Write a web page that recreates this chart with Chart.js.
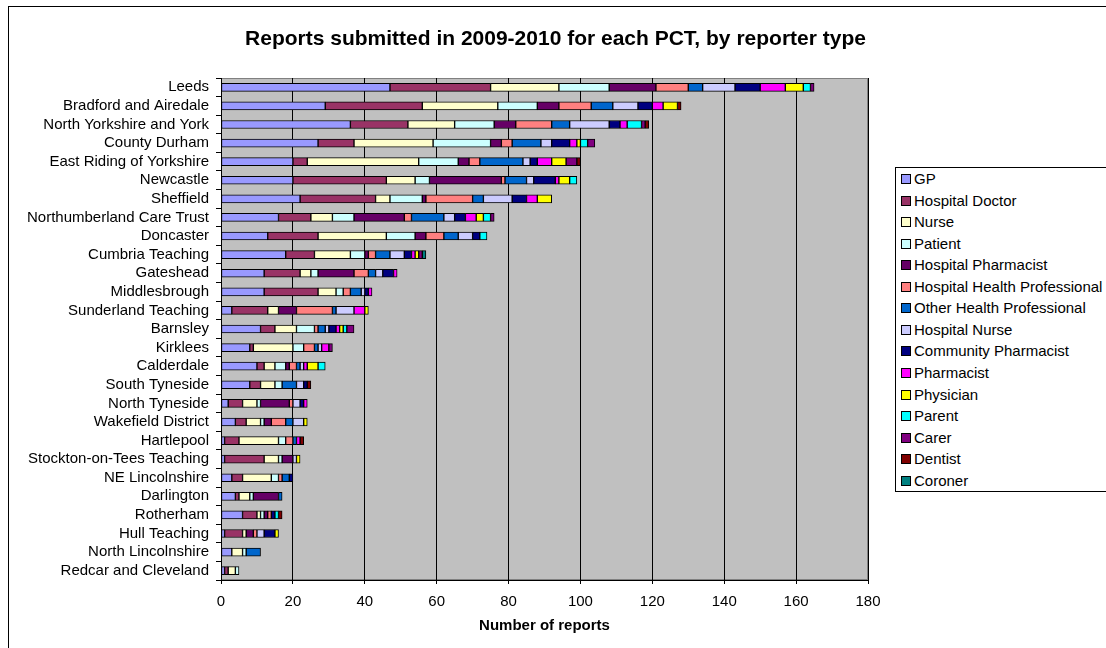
<!DOCTYPE html>
<html>
<head>
<meta charset="utf-8">
<script src="https://cdn.jsdelivr.net/npm/chart.js@4.4.1/dist/chart.umd.min.js"></script>
<style>
  html, body { margin:0; padding:0; background:#fff; width:1106px; height:648px; overflow:hidden; position:relative; font-family:'Liberation Sans', Arial, sans-serif; }
  #frame { position:absolute; left:8px; top:6px; width:1200px; height:700px; border:1px solid #000; box-sizing:border-box; }
  #title { position:absolute; left:0; top:27px; width:1111px; text-align:center; font-weight:bold; font-size:21px; line-height:21px; color:#000; white-space:nowrap; }
  #c { position:absolute; left:0; top:0; }
  #legend { position:absolute; left:895px; top:167px; width:212px; height:325px; border:1px solid #000; box-sizing:border-box; background:#fff; }
  .li { position:absolute; left:0; height:22px; line-height:22px; font-size:15px; color:#000; white-space:nowrap; }
  .sw { position:absolute; left:5px; top:6px; width:10px; height:10px; border:1px solid #000; box-sizing:border-box; }
  .lt { position:absolute; left:18px; top:0; }
</style>
</head>
<body>
<div id="frame"></div>
<canvas id="c" width="1106" height="648"></canvas>
<div id="title">Reports submitted in 2009-2010 for each PCT, by reporter type</div>
<div id="legend"></div>
<script>
const categories = ["Leeds","Bradford and Airedale","North Yorkshire and York","County Durham","East Riding of Yorkshire","Newcastle","Sheffield","Northumberland Care Trust","Doncaster","Cumbria Teaching","Gateshead","Middlesbrough","Sunderland Teaching","Barnsley","Kirklees","Calderdale","South Tyneside","North Tyneside","Wakefield District","Hartlepool","Stockton-on-Tees Teaching","NE Lincolnshire","Darlington","Rotherham","Hull Teaching","North Lincolnshire","Redcar and Cleveland"];

const seriesNames = ["GP","Hospital Doctor","Nurse","Patient","Hospital Pharmacist","Hospital Health Professional","Other Health Professional","Hospital Nurse","Community Pharmacist","Pharmacist","Physician","Parent","Carer","Dentist","Coroner"];
const seriesColors = ["#9999FF","#993366","#FFFFCC","#CCFFFF","#660066","#FF8080","#0066CC","#CCCCFF","#000080","#FF00FF","#FFFF00","#00FFFF","#800080","#800000","#008080"];

const gp        = [47,29,36,27,20,20,22,16,13,18,12,12,3,11,8,10,8,2,4,1,1,3,4,6,1,3,1];
const hospDoc   = [28,27,16,10,4,26,21,9,14,8,10,15,10,4,1,2,3,4,3,4,11,3,1,4,5,0,1];
const nurse     = [19,21,13,22,31,8,4,6,19,10,3,5,3,6,11,3,4,4,4,11,4,8,3,1,1,3,2];
const patient   = [14,11,11,16,11,4,9,6,8,4,2,2,0,5,3,3,2,1,1,2,1,2,1,1,0,1,1];
const hospPharm = [13,6,6,3,3,20,1,14,3,1,10,0,5,0,0,1,0,8,2,0,3,0,7,1,2,0,0];
const hospHP    = [9,9,10,3,3,1,13,2,5,2,4,2,10,1,3,2,0,1,4,2,0,1,0,1,1,0,0];
const otherHP   = [4,6,5,8,12,6,3,9,4,4,2,3,1,2,1,1,4,0,2,1,0,2,1,0,0,4,0];
const hospNurse = [9,7,11,3,2,2,8,3,4,4,2,1,5,1,1,1,2,2,3,0,1,0,0,0,2,0,0];
const commPharm = [7,4,3,5,2,6,4,3,2,2,3,1,0,2,0,0,1,1,0,0,0,1,0,1,3,0,0];
const pharmacist= [7,3,2,2,4,1,3,3,0,1,1,1,3,1,2,1,0,1,0,1,0,0,0,0,0,0,0];
const physician = [5,4,0,1,4,3,4,2,0,1,0,0,1,1,0,3,0,0,1,0,1,0,0,0,1,0,0];
const parent    = [2,0,4,2,0,2,0,2,2,0,0,0,0,1,0,2,0,0,0,0,0,0,0,1,0,0,0];
const carer     = [1,0,1,2,3,0,0,1,0,1,0,0,0,2,1,0,0,0,0,0,0,0,0,0,0,0,0];
const dentist   = [0,1,1,0,1,0,0,0,0,0,0,0,0,0,0,0,1,0,0,1,0,0,0,1,0,0,0];
const coroner   = [0,0,0,0,0,0,0,0,0,1,0,0,0,0,0,0,0,0,0,0,0,0,0,0,0,0,0];

const xTicks = [0,20,40,60,80,100,120,140,160,180];

const allSeries = [gp,hospDoc,nurse,patient,hospPharm,hospHP,otherHP,hospNurse,commPharm,pharmacist,physician,parent,carer,dentist,coroner];

const FONT = "'Liberation Sans', Arial, sans-serif";
Chart.defaults.font.family = FONT;
Chart.defaults.color = '#000';

const datasets = allSeries.map((arr, i) => ({
  label: seriesNames[i],
  data: arr.map(v => v === 0 ? null : v),
  backgroundColor: seriesColors[i],
  borderColor: '#000',
  borderWidth: 1,
  borderSkipped: false,
  barThickness: 8
}));

const plotBg = {
  id: 'plotBg',
  beforeDraw(chart) {
    const {ctx, chartArea: a} = chart;
    ctx.save();
    ctx.fillStyle = '#C0C0C0';
    ctx.fillRect(a.left, a.top, a.right - a.left, a.bottom - a.top);
    ctx.strokeStyle = '#808080';
    ctx.lineWidth = 1;
    ctx.strokeRect(Math.round(a.left) + 0.5, Math.round(a.top) + 0.5, Math.round(a.right - a.left) - 1, Math.round(a.bottom - a.top) - 1);
    ctx.restore();
  }
};

new Chart(document.getElementById('c'), {
  type: 'bar',
  data: { labels: categories, datasets },
  plugins: [plotBg],
  options: {
    indexAxis: 'y',
    responsive: false,
    animation: false,
    events: [],
    layout: { padding: { left: 0, top: 78, right: 238, bottom: 0 } },
    plugins: { legend: { display: false }, title: { display: false }, tooltip: { enabled: false } },
    scales: {
      x: {
        stacked: true,
        min: 0, max: 180,
        afterBuildTicks(scale) { scale.ticks = xTicks.map(v => ({ value: v })); },
        afterFit(scale) { scale.height = 68; },
        grid: { color: '#000', lineWidth: 1, drawTicks: true, tickLength: 4, tickColor: '#000' },
        border: { color: '#000', width: 1 },
        ticks: { padding: 9, font: { size: 15 }, color: '#000', maxRotation: 0 },
        title: { display: true, text: 'Number of reports', font: { size: 15, weight: 'bold' }, color: '#000', padding: { top: 0, bottom: 13 } }
      },
      y: {
        stacked: true,
        afterFit(scale) { scale.width = 221; },
        grid: { drawOnChartArea: false, drawTicks: true, tickLength: 5, color: '#000', tickColor: '#000', offset: true },
        border: { color: '#000', width: 1 },
        ticks: { autoSkip: false, padding: 7, font: { size: 15 }, color: '#000' }
      }
    }
  }
});

const legend = document.getElementById('legend');
seriesNames.forEach((name, i) => {
  const row = document.createElement('div');
  row.className = 'li';
  row.style.top = (179 + 21.55 * i - 167 - 11 - 1) + 'px';
  const sw = document.createElement('div');
  sw.className = 'sw';
  sw.style.background = seriesColors[i];
  const t = document.createElement('span');
  t.className = 'lt';
  t.textContent = name;
  row.appendChild(sw); row.appendChild(t);
  legend.appendChild(row);
});
</script>
</body>
</html>
